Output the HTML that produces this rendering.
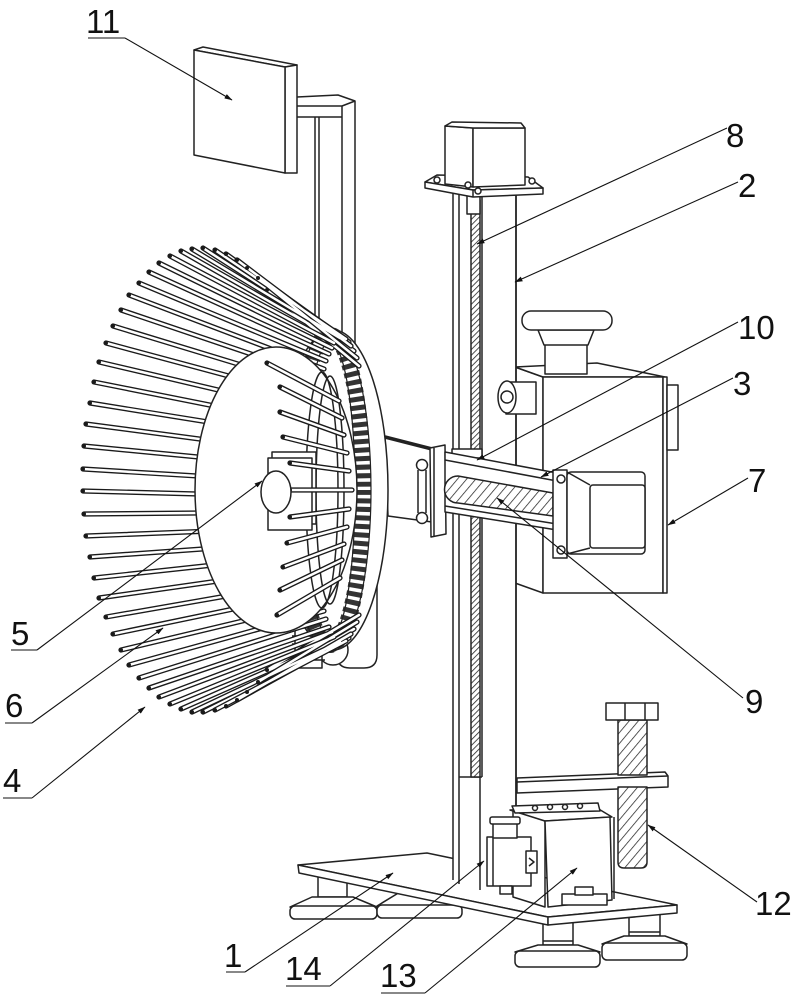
<!DOCTYPE html>
<html><head><meta charset="utf-8">
<style>
html,body{margin:0;padding:0;background:#fff;}
svg{display:block;}
text{font-family:"Liberation Sans",Arial,sans-serif;font-size:33px;fill:#111;stroke:none;}
.b{stroke:#1a1a1a;stroke-width:5.2;stroke-linecap:round;fill:none;}
.w{stroke:#fff;stroke-width:2.5;stroke-linecap:round;fill:none;}
.dot{stroke:#1a1a1a;stroke-width:4;stroke-linecap:round;fill:none;}
</style></head>
<body>
<svg width="802" height="1000" viewBox="0 0 802 1000" xmlns="http://www.w3.org/2000/svg">
<defs>
<pattern id="hatch" patternUnits="userSpaceOnUse" width="7" height="7" patternTransform="rotate(40)">
<rect width="7" height="7" fill="#fff"/><line x1="0" y1="0" x2="0" y2="7" stroke="#222" stroke-width="1.5"/>
</pattern>
<pattern id="hatch2" patternUnits="userSpaceOnUse" width="4" height="4" patternTransform="rotate(45)">
<rect width="4" height="4" fill="#fff"/><line x1="0" y1="0" x2="0" y2="4" stroke="#222" stroke-width="1.6"/>
</pattern>
<marker id="ar" markerWidth="8" markerHeight="6" refX="7.5" refY="3" orient="auto" markerUnits="userSpaceOnUse"><path d="M0,0.5 L8,3 L0,5.5 z" fill="#111"/></marker>
<path id="rA" d="M267 290L359 366M247 268L354 351M226 254L349 342M203 248L343 338M181 251L337 340M159 263L332 348M139 283L326 361M121 310L322 378M106 343L318 400M94 382L315 426M86 424L313 454M83 469L312 483"/>
<path id="rB" d="M258 278L357 358M237 260L351 346M215 250L346 339M192 249L340 338M170 256L334 343M149 272L329 354M129 295L324 369M113 326L320 389M99 362L316 413M90 403L314 439M84 446L312 468"/>
<path id="rC" d="M83 491L312 497M86 536L313 527M94 578L315 554M106 617L318 580M121 650L322 602M139 678L326 619M159 697L332 632M181 709L337 640M203 712L343 642M226 706L349 638M247 692L354 629M267 670L359 615"/>
<path id="rD" d="M84 514L312 512M90 557L314 541M99 598L316 567M113 634L320 591M129 665L324 611M149 688L329 627M170 704L334 637M192 712L340 642M215 710L346 641M237 700L351 634M258 682L357 622"/>
<path id="sA" d="M267 363L339 401M280 412L344 435M290 463L349 471M290 517L349 509M283 567L344 544M277 615L340 578"/>
<path id="sB" d="M280 387L342 418M283 437L347 453M290 490L352 490M287 543L347 527M280 590L342 560"/>
</defs>

<g fill="none" stroke="#222" stroke-width="1.5" stroke-linejoin="round">

<!-- Feet -->
<g fill="#fff">
<rect x="318" y="870" width="29" height="27"/>
<polygon points="312,897 353,897 377,907 290,907"/>
<rect x="290" y="906" width="87" height="13" rx="5"/>
<rect x="405" y="878" width="28" height="14"/>
<polygon points="400,892 438,892 462,906 377,906"/>
<rect x="377" y="905" width="85" height="13" rx="5"/>
<rect x="543" y="920" width="30" height="25"/>
<line x1="543" y1="941" x2="573" y2="941"/>
<polygon points="538,945 578,945 600,952 515,952"/>
<rect x="515" y="951" width="85" height="16" rx="5"/>
<rect x="629" y="910" width="31" height="26"/>
<line x1="629" y1="932" x2="660" y2="932"/>
<polygon points="624,936 665,936 687,944 602,944"/>
<rect x="602" y="943" width="85" height="17" rx="5"/>
</g>

<!-- Base plate 1 -->
<g fill="#fff">
<polygon points="298,865 427,853 677,905 548,917"/>
<polygon points="298,865 548,917 548,925 299,873"/>
<polygon points="548,917 677,905 677,913 548,925"/>
</g>

<!-- Frame for 11 -->
<polyline points="297,97 338,95 355,101 355,350"/>
<path d="M297 106H342L355 101M297 117H342M342 106V350M315 117V350M319 117V350"/>

<!-- Box 11 -->
<g fill="#fff">
<polygon points="194,50 203,47 297,65 285,67"/>
<polygon points="285,67 297,65 297,173 285,173"/>
<polygon points="194,50 285,67 285,173 194,155"/>
</g>

<!-- Box 7 and knob -->
<g fill="#fff">
<polygon points="515,367 543,377 543,593 515,583"/>
<polygon points="515,367 597,363 665,377 543,377"/>
<rect x="543" y="377" width="120" height="216"/>
<rect x="663" y="377" width="4" height="216"/>
<rect x="667" y="385" width="11" height="65"/>
<rect x="545" y="343" width="42" height="31"/>
<polygon points="538,330 594,330 588,345 544,345"/>
<rect x="522" y="311" width="90" height="19" rx="9"/>
</g>

<!-- Column 2 -->
<rect x="453" y="192" width="63" height="690" fill="#fff" stroke="none"/>
<path d="M453 192V880M459 192V884M482 192V777M480 777V890M459 777H482"/>
<line x1="516" y1="192" x2="516" y2="812" stroke-width="1.8"/>
<rect x="471" y="200" width="9" height="577" fill="url(#hatch2)"/>
<rect x="467" y="192" width="13" height="22" fill="#fff"/>

<!-- Top motor and flange -->
<g fill="#fff">
<polygon points="425,182 437,175 528,177 543,188 473,190"/>
<polygon points="425,182 473,190 543,188 543,194 473,197 425,188"/>
<line x1="473" y1="190" x2="473" y2="197"/>
<polygon points="445,126 473,128 473,187 445,184"/>
<polygon points="473,128 525,128 525,185 473,187"/>
<polygon points="445,126 452,122 521,123 525,128 473,128"/>
<circle cx="437" cy="180" r="3"/><circle cx="532" cy="181" r="3"/><circle cx="478" cy="191" r="3"/><circle cx="468" cy="185" r="3"/>
</g>

<!-- side boss -->
<g fill="#fff">
<rect x="506" y="382" width="30" height="32"/>
<ellipse cx="507" cy="397" rx="9" ry="16"/>
<circle cx="507" cy="397" r="6"/>
</g>

<!-- Bracket 12 -->
<g fill="#fff">
<polygon points="517,778 665,772 668,776 668,787 517,793"/>
<line x1="517" y1="782" x2="668" y2="776"/>
<rect x="618" y="720" width="29" height="55" fill="url(#hatch)"/>
<path d="M618,787 L618,862 Q618,868 624,868 L641,868 Q647,868 647,862 L647,787 Z" fill="url(#hatch)"/>
<rect x="606" y="703" width="52" height="17"/>
<path d="M625 703V720M645 703V720"/>
</g>

<!-- Box 13 -->
<g fill="#fff">
<polygon points="513,810 545,821 545,907 513,897"/>
<polygon points="510,810 597,808 612,817 545,821"/>
<polygon points="512,806 598,803 600,811 515,813"/>
<circle cx="535" cy="808" r="2.5"/><circle cx="550" cy="807" r="2.5"/><circle cx="565" cy="807" r="2.5"/><circle cx="580" cy="806" r="2.5"/>
<polygon points="545,821 610,817 612,900 548,907"/>
<line x1="614" y1="817" x2="614" y2="899"/>
<rect x="562" y="894" width="45" height="11"/>
<rect x="575" y="887" width="18" height="8"/>
</g>

<!-- Device 14 -->
<g fill="#fff">
<rect x="487" y="837" width="44" height="49"/>
<line x1="493" y1="837" x2="493" y2="886"/>
<rect x="493" y="823" width="24" height="15"/>
<rect x="490" y="817" width="30" height="7" rx="2"/>
<rect x="526" y="851" width="11" height="22"/>
<path d="M529,858 L534,862 L529,866"/>
<rect x="500" y="886" width="12" height="8"/>
</g>

<!-- Plate 10, tube, arm 3, motor -->
<g fill="#fff">
<polygon points="385,437 432,449 432,522 388,516"/>
<line x1="385" y1="437" x2="432" y2="449" stroke-width="3.5"/>
<path d="M418 470V513M426 470V513"/>
<circle cx="422" cy="465" r="5.5"/>
<circle cx="422" cy="518" r="5.5"/>
<polygon points="430,448 445,445 446,534 431,537"/>
<line x1="434" y1="448" x2="434" y2="536"/>
<rect x="452" y="449" width="30" height="9"/>
<polygon points="445,452 557,473 557,530 445,512"/>
<path d="M445 460L557 481M445 506L557 524"/>
<path d="M458,476 L553,493 L553,516 L458,503 A13.5,13.5 0 0 1 458,476 Z" fill="url(#hatch)"/>
<rect x="553" y="470" width="14" height="88"/>
<circle cx="561" cy="479" r="4"/>
<circle cx="561" cy="550" r="4"/>
<rect x="567" y="472" width="78" height="82" rx="4"/>
<rect x="590" y="485" width="55" height="63" rx="3"/>
<path d="M567 472L590 485M567 554L590 548"/>
</g>

<!-- Wheel rear bracket -->
<g fill="#fff">
<path d="M337,560 L377,560 L377,655 Q377,668 364,668 L350,668 Q337,668 337,655 Z"/>
<circle cx="333" cy="650" r="15"/>
<rect x="295" y="620" width="27" height="48"/>
<path d="M292 628H325M292 636H325M292 644H325M292 652H325M292 660H325"/>
</g>

<!-- gear ring -->
<ellipse cx="333" cy="490" rx="55" ry="160" fill="#fff"/>
<ellipse cx="330" cy="490" rx="33" ry="155" stroke="#333" stroke-width="16" stroke-dasharray="5 3.5"/>
<ellipse cx="330" cy="490" rx="41" ry="162" stroke-width="1.2"/>
<ellipse cx="330" cy="490" rx="25" ry="148" stroke-width="1.2"/>

<!-- bristle rods -->
<use href="#rA" class="b"/><use href="#rA" class="w"/>
<use href="#rB" class="b"/><use href="#rB" class="w"/>
<use href="#rC" class="b"/><use href="#rC" class="w"/>
<use href="#rD" class="b"/><use href="#rD" class="w"/>
<path class="dot" d="M267 290h0M258 278h0M247 268h0M237 260h0M226 254h0M215 250h0M203 248h0M192 249h0M181 251h0M170 256h0M159 263h0M149 272h0M139 283h0M129 295h0M121 310h0M113 326h0M106 343h0M99 362h0M94 382h0M90 403h0M86 424h0M84 446h0M83 469h0M83 491h0M84 514h0M86 536h0M90 557h0M94 578h0M99 598h0M106 617h0M113 634h0M121 650h0M129 665h0M139 678h0M149 688h0M159 697h0M170 704h0M181 709h0M192 712h0M203 712h0M215 710h0M226 706h0M237 700h0M247 692h0M258 682h0M267 670h0"/>

<!-- disc -->
<ellipse cx="276" cy="490" rx="81" ry="143" fill="#fff"/>
<ellipse cx="322" cy="490" rx="16" ry="118"/>
<ellipse cx="330" cy="490" rx="14" ry="114"/>

<!-- hub -->
<g fill="#fff">
<rect x="272" y="452" width="44" height="72"/>
<rect x="268" y="458" width="44" height="72"/>
</g>

<!-- short rods on disc -->
<use href="#sA" class="b"/><use href="#sA" class="w"/>
<use href="#sB" class="b"/><use href="#sB" class="w"/>
<path class="dot" d="M267 363h0M280 387h0M280 412h0M283 437h0M290 463h0M290 490h0M290 517h0M287 543h0M283 567h0M280 590h0M277 615h0"/>

<ellipse cx="276" cy="492" rx="15" ry="21" fill="#fff"/>

<!-- Leaders -->
<g stroke-width="1.1" stroke="#111">
<path d="M88 38H125M11 650H37M5 723H32M3 798H32M226 972H245M286 986H330M381 993H425"/>
<line x1="125" y1="38" x2="232" y2="100" marker-end="url(#ar)"/>
<line x1="727" y1="128" x2="477" y2="244" marker-end="url(#ar)"/>
<line x1="738" y1="182" x2="515" y2="282" marker-end="url(#ar)"/>
<line x1="738" y1="322" x2="477" y2="460" marker-end="url(#ar)"/>
<line x1="733" y1="378" x2="541" y2="477" marker-end="url(#ar)"/>
<line x1="748" y1="478" x2="668" y2="525" marker-end="url(#ar)"/>
<line x1="743" y1="698" x2="497" y2="498" marker-end="url(#ar)"/>
<line x1="757" y1="902" x2="648" y2="825" marker-end="url(#ar)"/>
<line x1="37" y1="650" x2="262" y2="481" marker-end="url(#ar)"/>
<line x1="32" y1="723" x2="163" y2="628" marker-end="url(#ar)"/>
<line x1="32" y1="798" x2="145" y2="707" marker-end="url(#ar)"/>
<line x1="245" y1="972" x2="393" y2="873" marker-end="url(#ar)"/>
<line x1="330" y1="986" x2="484" y2="861" marker-end="url(#ar)"/>
<line x1="425" y1="993" x2="577" y2="868" marker-end="url(#ar)"/>
</g>
</g>

<!-- Labels -->
<text x="86" y="33">11</text>
<text x="726" y="147">8</text>
<text x="738" y="197">2</text>
<text x="738" y="339">10</text>
<text x="733" y="395">3</text>
<text x="748" y="492">7</text>
<text x="745" y="713">9</text>
<text x="755" y="915">12</text>
<text x="11" y="645">5</text>
<text x="5" y="717">6</text>
<text x="3" y="792">4</text>
<text x="224" y="967">1</text>
<text x="285" y="980">14</text>
<text x="380" y="987">13</text>
</svg>
</body></html>
